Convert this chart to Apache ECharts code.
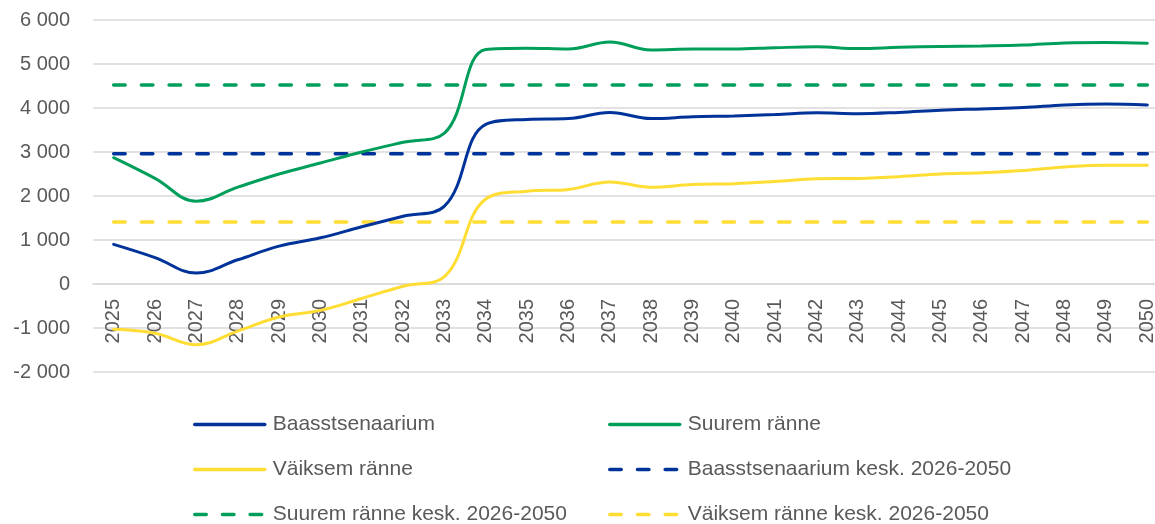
<!DOCTYPE html>
<html>
<head>
<meta charset="utf-8">
<script src="https://cdn.jsdelivr.net/npm/echarts@6/dist/echarts.min.js"></script>
<style>
html,body{margin:0;padding:0;background:#fff;}
#chart{width:1155px;height:524px;}
</style>
</head>
<body>
<div id="chart"></div>
<script>
const years = ['2025','2026','2027','2028','2029','2030','2031','2032','2033','2034','2035','2036','2037','2038','2039','2040','2041','2042','2043','2044','2045','2046','2047','2048','2049','2050'];
const baas = [900,600,250,550,860,1050,1300,1540,1770,3630,3740,3760,3900,3760,3800,3820,3850,3890,3870,3900,3950,3980,4010,4070,4090,4070];
const suurem = [2870,2400,1880,2200,2500,2750,3000,3220,3430,5330,5360,5340,5500,5320,5340,5340,5370,5390,5350,5380,5400,5410,5430,5480,5490,5470];
const vaiksem = [-1030,-1120,-1380,-1070,-750,-600,-330,-50,170,1930,2110,2150,2320,2200,2260,2280,2330,2390,2400,2440,2500,2530,2580,2660,2700,2700];
const baasAvg = [2960,2960,2960,2960,2960,2960,2960,2960,2960,2960,2960,2960,2960,2960,2960,2960,2960,2960,2960,2960,2960,2960,2960,2960,2960,2960];
const suuremAvg = [4520,4520,4520,4520,4520,4520,4520,4520,4520,4520,4520,4520,4520,4520,4520,4520,4520,4520,4520,4520,4520,4520,4520,4520,4520,4520];
const vaiksemAvg = [1410,1410,1410,1410,1410,1410,1410,1410,1410,1410,1410,1410,1410,1410,1410,1410,1410,1410,1410,1410,1410,1410,1410,1410,1410,1410];
const names = ['Baasstsenaarium','Suurem ränne','Väiksem ränne','Baasstsenaarium kesk. 2026-2050','Suurem ränne kesk. 2026-2050','Väiksem ränne kesk. 2026-2050'];

const BLUE = '#003399', GREEN = '#009E5B', YELLOW = '#FFDD33';
const FONT = 'Liberation Sans';
const TXT = '#595959';

function fmt(v){
  const s = Math.abs(v).toString().replace(/\B(?=(\d{3})+(?!\d))/g, ' ');
  return (v < 0 ? '-' : '') + s;
}

const chart = echarts.init(document.getElementById('chart'), null, {renderer:'canvas'});
const solid = (name, data, color) => ({
  name, type:'line', data, smooth:0.4, symbol:'none', showSymbol:false,
  lineStyle:{color, width:3, cap:'round'}, itemStyle:{color}, z:3
});
const dashed = (name, data, color) => ({
  name, type:'line', data, symbol:'none', showSymbol:false,
  lineStyle:{color, width:3.5, type:[11.5,16.2], cap:'round'}, itemStyle:{color}, z:2
});
const legendCommon = {
  orient:'vertical', top:409, height:200,
  itemWidth:70, itemHeight:14, itemGap:24,
  itemStyle:{opacity:0},
  lineStyle:{width:3.5, cap:'round'},
  textStyle:{color:TXT, fontFamily:FONT, fontSize:21, padding:[0,0,0,3]}
};
chart.setOption({
  animation:false,
  backgroundColor:'#fff',
  grid:{left:93, width:1075, top:20, height:352, containLabel:false, outerBoundsMode:'none'},
  xAxis:{
    type:'category', data:years, boundaryGap:true, position:'bottom', offset:-88, z:0,
    axisLine:{show:true, onZero:false, lineStyle:{color:'#D9D9D9', width:1.5}},
    axisTick:{show:false},
    axisLabel:{rotate:90, margin:15, color:TXT, fontFamily:FONT, fontSize:20, interval:0},
    splitLine:{show:false}
  },
  yAxis:{
    type:'value', min:-2000, max:6000, interval:1000,
    axisLine:{show:false}, axisTick:{show:false},
    axisLabel:{margin:23, color:TXT, fontFamily:FONT, fontSize:20, formatter:fmt},
    splitLine:{lineStyle:{color:'#D9D9D9', width:1.5}}
  },
  legend:[
    Object.assign({data:[names[0], names[2], names[4]], left:188}, legendCommon),
    Object.assign({data:[names[1], names[3], names[5]], left:603}, legendCommon)
  ],
  series:[
    solid(names[0], baas, BLUE),
    solid(names[1], suurem, GREEN),
    solid(names[2], vaiksem, YELLOW),
    dashed(names[3], baasAvg, BLUE),
    dashed(names[4], suuremAvg, GREEN),
    dashed(names[5], vaiksemAvg, YELLOW)
  ]
});
</script>
</body>
</html>
